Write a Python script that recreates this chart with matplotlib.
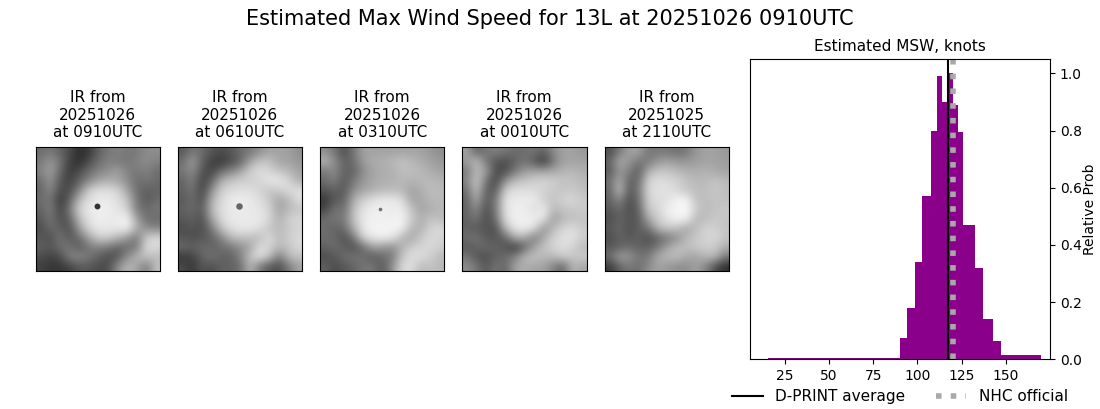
# D-PRINT style summary figure
import numpy as np
import matplotlib
matplotlib.use('Agg')
import matplotlib.pyplot as plt

# image panels
img_titles = ['IR from\n20251026\nat 0910UTC', 'IR from\n20251026\nat 0610UTC', 'IR from\n20251026\nat 0310UTC',
              'IR from\n20251026\nat 0010UTC', 'IR from\n20251025\nat 2110UTC']
img1 = [[120,130,110,90,60,70,110,130,140,130,130,150,150],
        [130,160,130,80,60,90,120,140,130,130,140,150,140],
        [140,170,120,70,90,120,140,150,170,140,130,140,120],
        [120,160,100,80,110,140,170,180,170,150,120,130,120],
        [110,150,90,90,140,210,225,225,215,170,120,110,110],
        [120,130,70,110,190,225,235,235,225,200,130,100,120],
        [110,140,80,130,215,235,240,240,230,215,130,120,130],
        [100,130,90,110,195,230,240,235,235,245,170,120,120],
        [90,120,110,90,165,220,235,235,235,245,180,150,140],
        [100,90,130,100,120,170,210,210,190,160,130,210,220],
        [110,100,120,130,100,130,140,130,110,120,130,225,220],
        [90,80,90,140,150,130,110,90,100,150,190,200,190],
        [80,70,70,80,100,100,90,90,150,190,170,130,200]]
img2 = [[100,130,120,100,90,100,120,130,150,170,170,170,150],
        [120,170,110,80,70,90,110,170,200,200,170,170,160],
        [130,150,100,80,120,140,170,210,225,215,200,190,170],
        [110,140,80,110,180,200,210,210,215,235,235,215,180],
        [110,130,80,150,210,220,225,225,215,200,210,225,225],
        [100,120,90,180,220,235,240,235,225,205,170,190,225],
        [110,120,100,190,225,235,235,235,230,215,170,190,200],
        [100,110,90,170,220,235,235,235,235,220,180,210,220],
        [90,100,90,130,200,225,235,235,225,200,190,205,215],
        [100,90,100,110,140,190,200,195,190,225,190,210,220],
        [120,110,120,110,120,130,150,170,225,215,190,200,220],
        [70,80,110,130,110,110,140,200,230,200,130,190,200],
        [90,70,100,90,110,110,120,190,130,100,90,130,170]]
img3 = [[150,130,90,130,170,170,170,170,170,170,170,160,150],
        [190,150,110,120,165,180,180,190,200,190,180,170,160],
        [130,150,110,110,150,170,180,180,195,195,190,180,170],
        [120,140,100,130,160,175,180,185,190,185,190,190,185],
        [100,110,100,150,170,180,190,190,190,170,180,195,190],
        [70,100,110,180,210,225,235,235,225,170,175,190,190],
        [80,130,120,195,230,240,240,235,240,200,170,180,190],
        [120,130,130,200,235,240,240,240,245,210,180,200,190],
        [120,110,120,180,235,245,245,245,245,190,180,215,220],
        [120,120,90,130,215,235,240,235,190,170,205,220,215],
        [110,120,110,90,120,170,160,150,180,210,215,220,210],
        [90,100,120,130,120,100,120,130,200,225,225,210,190],
        [110,90,100,110,130,130,100,150,220,225,190,200,190]]
img4 = [[170,110,130,140,130,120,120,130,110,150,170,170,160],
        [160,200,130,100,90,110,130,100,70,130,170,170,170],
        [130,190,170,90,90,130,160,170,170,175,185,190,180],
        [140,210,130,80,150,190,200,210,215,210,200,200,190],
        [120,200,110,100,210,225,225,220,215,205,200,205,195],
        [110,180,100,130,230,235,235,240,210,200,215,220,205],
        [110,150,90,130,230,240,240,220,240,190,200,205,205],
        [110,130,90,120,225,240,240,240,235,160,190,195,200],
        [110,100,100,90,190,235,240,230,150,190,215,225,205],
        [120,130,100,100,110,180,180,130,175,215,225,230,210],
        [100,110,120,110,100,70,110,170,200,215,225,215,190],
        [130,100,90,110,120,140,190,200,190,190,210,200,210],
        [150,130,100,130,110,170,180,170,170,140,110,190,170]]
img5 = [[90,130,170,170,130,130,130,120,130,160,170,170,160],
        [110,180,160,130,130,160,170,160,160,165,170,170,165],
        [100,160,140,100,180,200,200,190,180,180,185,175,170],
        [120,180,110,120,215,225,220,215,200,190,190,200,190],
        [110,200,100,130,220,225,230,215,200,195,195,205,195],
        [110,150,90,120,215,225,225,245,245,195,195,200,195],
        [100,120,90,110,205,215,240,245,250,210,190,200,205],
        [90,110,100,100,175,210,230,245,245,185,195,205,200],
        [100,120,90,110,125,190,205,200,170,195,215,210,200],
        [90,110,100,110,90,110,130,150,190,205,215,220,200],
        [100,110,120,110,110,130,170,195,195,205,210,205,180],
        [120,170,160,130,130,180,190,195,175,170,190,190,130],
        [70,110,130,120,150,170,160,150,150,170,140,90,60]]
images = [img1, img2, img3, img4, img5]

# eyes visible in the first three images (col, row, grey)
eye_x = [5.97, 5.97, 5.77]
eye_y = [5.7, 5.7, 6.0]
eye_grey = ['0.2', '0.4', '0.45']
eye_size = [18, 22, 7]

# histogram
bin_edges = [15.2, 90, 94, 98.5, 102.7, 107.6, 111, 113.6, 117, 120, 123, 126, 132.3, 136.8, 142.7, 147, 170]
probs = [0.004, 0.074, 0.178, 0.34, 0.57, 0.80, 0.99, 0.90, 1.0, 0.89, 0.795, 0.47, 0.32, 0.14, 0.063, 0.014]
dprint_avg = 117.2
nhc_official = 120

W, H = 1100, 409
fig = plt.figure(figsize=(W / 100, H / 100), dpi=100)
fig.suptitle('Estimated Max Wind Speed for 13L at 20251026 0910UTC', fontsize=15, x=0.5, y=0.978)

img_left = [35.5, 177.5, 320, 462, 604.5]
for i in range(5):
    ax = fig.add_axes([img_left[i] / W, 1 - 271 / H, 124.5 / W, 124 / H])
    ax.set_facecolor('0.45')
    ax.imshow(images[i], cmap='gray', vmin=20, vmax=255, interpolation='bicubic', aspect='auto')
    if i < 3:
        ax.scatter(eye_x[i], eye_y[i], s=eye_size[i], color=eye_grey[i], linewidths=0)
    ax.set_xticks([])
    ax.set_yticks([])
    ax.set_title(img_titles[i], fontsize=11, pad=7)

ax = fig.add_axes([750 / W, 1 - 359.2 / H, 300 / W, 300 / H])
centres = (np.array(bin_edges[:-1]) + np.array(bin_edges[1:])) / 2
ax.hist(centres, bins=bin_edges, weights=probs, color='darkmagenta')
ax.axvline(dprint_avg, color='k', lw=1.5, label='D-PRINT average')
ax.axvline(nhc_official, color='darkgrey', lw=4, ls=':', label='NHC official')
ax.set_xlim(5.2, 175)
ax.set_ylim(0, 1.05)
ax.set_xticks([25, 50, 75, 100, 125, 150])
ax.yaxis.tick_right()
ax.yaxis.set_label_position('right')
ax.set_ylabel('Relative Prob', fontsize=10, labelpad=1)
ax.tick_params(labelsize=10)
ax.set_title('Estimated MSW, knots', fontsize=11, pad=6)
ax.legend(loc='upper center', bbox_to_anchor=(0.5, -0.055), ncol=2, frameon=False, fontsize=11, columnspacing=2)

fig.savefig('out.png', dpi=100)
